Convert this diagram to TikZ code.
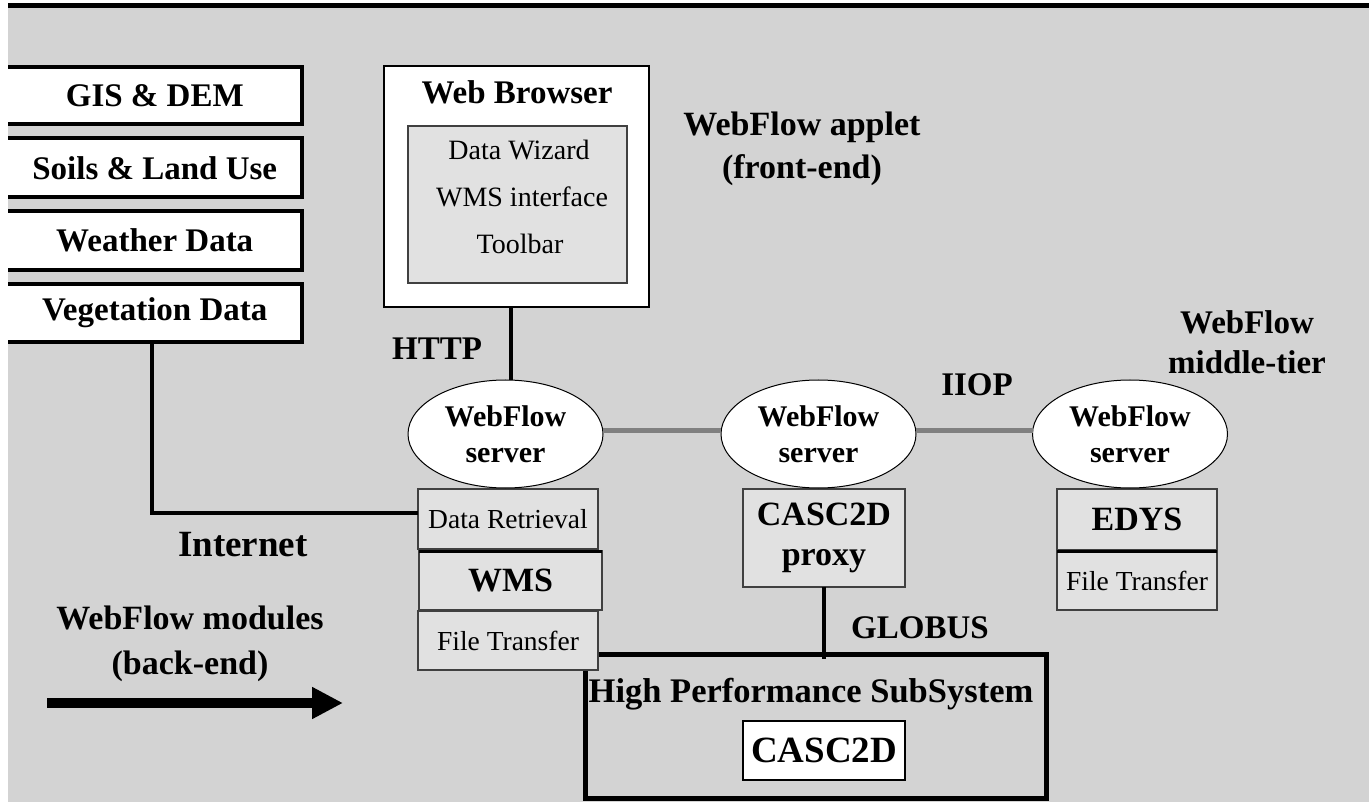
\documentclass[tikz,border=0pt]{standalone}
\usepackage{fontspec}
\setmainfont{Liberation Serif}
\usetikzlibrary{shapes.geometric,arrows.meta}
\definecolor{bg}{RGB}{211,211,211}
\definecolor{boxfill}{RGB}{225,225,225}
\definecolor{linkgray}{RGB}{128,128,128}
\newcommand{\myfs}[2]{\fontsize{#1}{#2}\selectfont}
\begin{document}
\begin{tikzpicture}[x=1pt,y=-1pt,
 every node/.style={inner sep=0pt, outer sep=0pt},
 boldlbl/.style={font=\bfseries\myfs{33}{40}, align=center},
 srcbox/.style={fill=white, minimum width=293.5pt, font=\bfseries\myfs{33}{38}},
 srcedge/.style={line width=4pt, line join=miter},
 server/.style={ellipse, draw=black, line width=1pt, fill=white, minimum width=195pt, minimum height=108pt, font=\bfseries\myfs{30}{36}, align=center},
 modbox/.style={draw=black!75, line width=1.5pt, fill=boxfill},
 modsmall/.style={modbox, font=\myfs{27.5}{30}},
 modbig/.style={modbox, font=\bfseries\myfs{34}{40}, align=center},
 innertxt/.style={font=\myfs{28}{30}},
 thickline/.style={line width=4.5pt},
 iiop/.style={draw=linkgray, line width=5pt},
 sepline/.style={line width=3pt}
]
\useasboundingbox (0,0) rectangle (1369,802);
\fill[white] (0,0) rectangle (1369,802);
\fill[bg] (8,8) rectangle (1369,802);
\coordinate (tl) at (8,6);
\coordinate (tr) at (1369,6);
\draw[line width=5pt] (tl) -- (tr);

% data sources
\node[srcbox, minimum height=57pt] (gis) at (154.75,95.5) {GIS \& DEM};
\node[srcbox, minimum height=59pt] (soil) at (154.75,168) {Soils \& Land Use};
\node[srcbox, minimum height=58.5pt] (wea) at (154.75,240.75) {Weather Data};
\node[srcbox, minimum height=58pt] (veg) at (154.75,313) {Vegetation Data};
\foreach \b in {gis,soil,wea,veg}
  \draw[srcedge] (\b.north west) -- (\b.north east) -- (\b.south east) -- (\b.south west);

% web browser
\node[draw=black, line width=1.5pt, fill=white, minimum width=265pt, minimum height=241pt] (browser) at (516.5,186.5) {};
\node[boldlbl] (wbt) at (517,92) {Web Browser};
\node[draw=black!75, line width=1.2pt, fill=boxfill, minimum width=219pt, minimum height=157pt] (binner) at (517.5,204.5) {};
\node[innertxt] (dw) at (519,150) {Data Wizard};
\node[innertxt] (wmsi) at (522,197) {WMS interface};
\node[innertxt] (tb) at (520,244) {Toolbar};

% high performance subsystem
\node[draw=black, line width=5pt, minimum width=461pt, minimum height=144pt] (hps) at (816,726.5) {};
\node[font=\bfseries\myfs{34.5}{40}] (hpst) at (811,694) {High Performance SubSystem};
\node[draw=black, line width=1.5pt, fill=white, minimum width=162pt, minimum height=59pt, font=\bfseries\myfs{37}{40}] (casc) at (824,750.5) {CASC2D};

% modules
\node[modsmall, minimum width=180pt, minimum height=60pt] (dr) at (508,519) {Data Retrieval};
\node[modbig, minimum width=183pt, minimum height=59pt] (wms) at (510.5,580.5) {WMS};
\node[modsmall, minimum width=180pt, minimum height=59pt] (ft1) at (508,640.5) {File Transfer};
\draw[sepline] (wms.north west) -- (wms.north east);
\node[modbig, minimum width=162pt, minimum height=98pt] (proxy) at (824,538) {CASC2D\\proxy};
\node[modbig, minimum width=160pt, minimum height=61pt] (edys) at (1137,519.5) {EDYS};
\node[modsmall, minimum width=160pt, minimum height=59pt] (ft3) at (1137,580.5) {File Transfer};
\draw[sepline] (ft3.north west) -- (ft3.north east);

% servers
\node[server] (s1) at (505.5,434) {WebFlow\\server};
\node[server] (s2) at (818.5,434) {WebFlow\\server};
\node[server] (s3) at (1130,434) {WebFlow\\server};

% connectors
\draw[thickline] ([xshift=-5.5pt]browser.south) -- ([xshift=-5.5pt]browser.south |- s1.north);
\draw[iiop] ([yshift=4pt]s1.east) -- ([yshift=4pt]s2.west);
\draw[iiop] ([yshift=4pt]s2.east) -- ([yshift=4pt]s3.west);
\draw[thickline] (proxy.south) -- ([yshift=-4pt]proxy.south |- hps.north);
\coordinate (vx) at (152,0);
\draw[thickline] (veg.south -| vx) |- ([yshift=6pt]dr.west);

% labels
\node[boldlbl] (http) at (437,349) {HTTP};
\node[boldlbl] (iioplbl) at (977,385) {IIOP};
\node[font=\bfseries\myfs{34}{43}, align=center] (applet) at (802,149) {WebFlow applet\\(front-end)};
\node[font=\bfseries\myfs{33}{40}, align=center] (mid) at (1247,342) {WebFlow\\middle-tier};
\node[font=\bfseries\myfs{37}{40}] (inet) at (243,545) {Internet};
\node[font=\bfseries\myfs{34}{45}, align=center] (mods) at (190,644) {WebFlow modules\\(back-end)};
\node[font=\bfseries\myfs{33}{40}] (globus) at (920,628) {GLOBUS};
\coordinate (a1) at (47,703);
\coordinate (a2) at (343,703);
\draw[line width=10pt, -{Triangle[length=31pt,width=30pt]}] (a1) -- (a2);
\end{tikzpicture}
\end{document}
